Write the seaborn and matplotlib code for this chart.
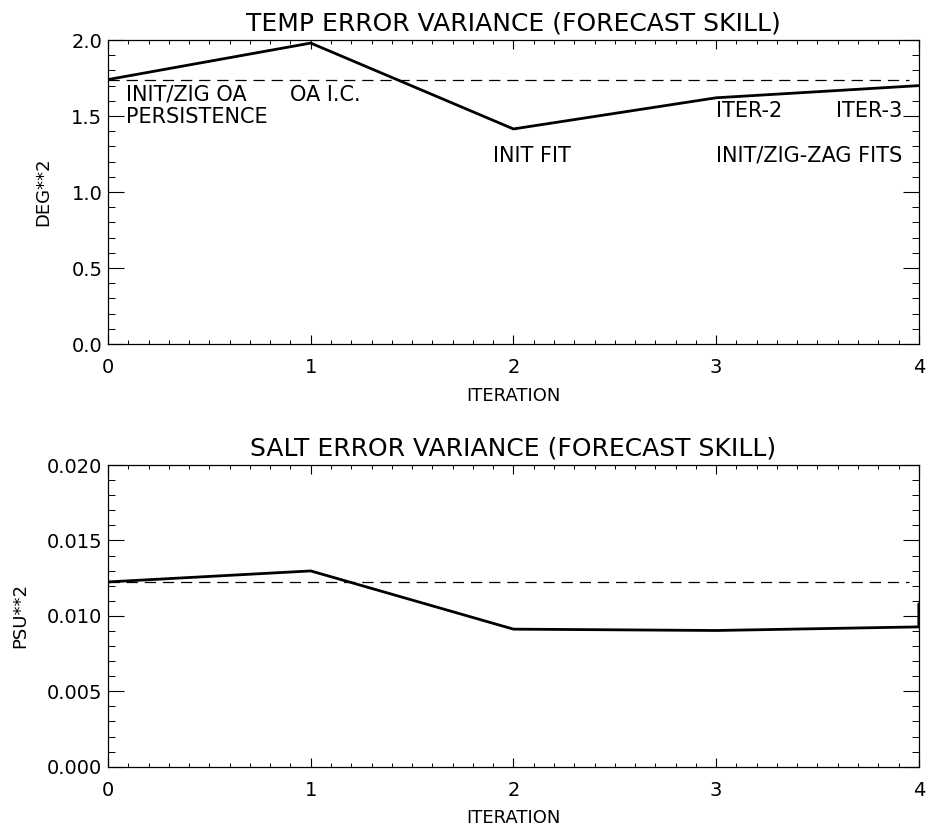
import numpy as np
import pandas as pd
import seaborn as sns
import matplotlib.pyplot as plt
from matplotlib.ticker import MultipleLocator

# values
iteration = [0, 1, 2, 3, 4]
temp_var = [1.74, 1.98, 1.415, 1.62, 1.70]
temp_persist = 1.74

salt_iter = [0, 1, 2, 3, 4, 4]
salt_var = [0.01225, 0.01298, 0.00912, 0.00903, 0.00927, 0.0108]
salt_persist = 0.01222

temp_labels = ["INIT/ZIG OA", "PERSISTENCE", "OA I.C.", "INIT FIT",
               "ITER-2", "ITER-3", "INIT/ZIG-ZAG FITS"]
temp_label_x = [0.09, 0.09, 0.90, 1.90, 3.0, 3.59, 3.0]
temp_label_y = [1.64, 1.495, 1.64, 1.24, 1.535, 1.535, 1.24]

sns.set_style("ticks")
plt.rcParams['font.family'] = ['DejaVu Sans']
plt.rcParams['xtick.direction'] = 'in'
plt.rcParams['ytick.direction'] = 'in'
for key in ['text.color', 'axes.labelcolor', 'xtick.color', 'ytick.color']:
    plt.rcParams[key] = 'black'


def style_axes(ax, ymax, ymajor, yminor, yfmt):
    ax.set_xlim(0, 4)
    ax.set_ylim(0, ymax)
    ax.xaxis.set_major_locator(MultipleLocator(1))
    ax.xaxis.set_minor_locator(MultipleLocator(0.1))
    ax.yaxis.set_major_locator(MultipleLocator(ymajor))
    ax.yaxis.set_minor_locator(MultipleLocator(yminor))
    ax.yaxis.set_major_formatter(plt.FormatStrFormatter(yfmt))
    ax.tick_params(axis='x', which='major', length=6.5, width=0.8, pad=10,
                   top=True, labelsize=14)
    ax.tick_params(axis='x', which='minor', length=3, width=0.7, top=True)
    ax.tick_params(axis='y', which='major', length=11.5, width=0.8, pad=4,
                   right=True, labelsize=14)
    ax.tick_params(axis='y', which='minor', length=5, width=0.7, right=True)
    for sp in ax.spines.values():
        sp.set_visible(True)
        sp.set_linewidth(0.9)
        sp.set_color('black')
    ax.set_xlabel("ITERATION", fontsize=13, labelpad=7)


fig = plt.figure(figsize=(9.33, 8.27), dpi=100)
ax1 = fig.add_axes([0.1158, 0.584, 0.869, 0.3676])
ax2 = fig.add_axes([0.1158, 0.0729, 0.869, 0.3648])

# temperature
df_t = pd.DataFrame({"iteration": iteration, "var": temp_var})
sns.lineplot(data=df_t, x="iteration", y="var", ax=ax1, color='black',
             linewidth=2.0, estimator=None, sort=False)
ax1.plot([0, 3.95], [temp_persist, temp_persist], color='black',
         linewidth=0.9, dashes=(9, 5.5))
style_axes(ax1, 2.0, 0.5, 0.1, '%.1f')
ax1.set_ylabel("DEG**2", fontsize=13, labelpad=14)
ax1.set_title("TEMP ERROR VARIANCE (FORECAST SKILL)", fontsize=18, pad=7)
for t, x, y in zip(temp_labels, temp_label_x, temp_label_y):
    ax1.text(x, y, t, fontsize=15, ha='left', va='center')

# salinity
df_s = pd.DataFrame({"iteration": salt_iter, "var": salt_var})
sns.lineplot(data=df_s, x="iteration", y="var", ax=ax2, color='black',
             linewidth=2.0, estimator=None, sort=False)
ax2.plot([0, 3.95], [salt_persist, salt_persist], color='black',
         linewidth=0.9, dashes=(9, 5.5))
style_axes(ax2, 0.020, 0.005, 0.001, '%.3f')
ax2.set_ylabel("PSU**2", fontsize=13, labelpad=13)
ax2.set_title("SALT ERROR VARIANCE (FORECAST SKILL)", fontsize=18, pad=7)

fig.savefig("out.png", dpi=100)
